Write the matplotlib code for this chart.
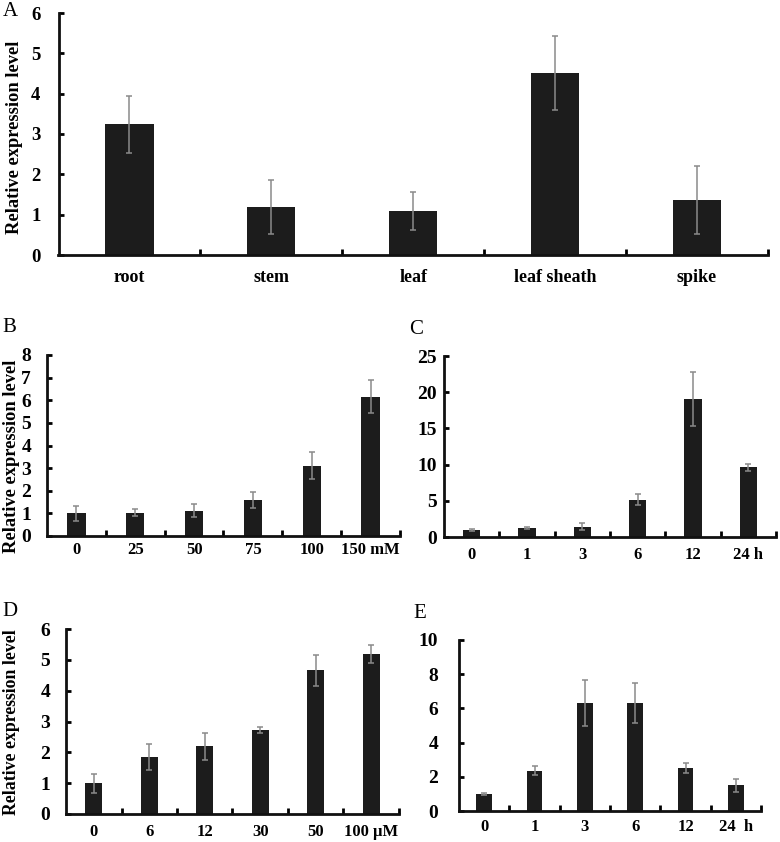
import matplotlib
matplotlib.use("Agg")
import matplotlib.pyplot as plt
import numpy as np

plt.rcParams['font.family'] = ['Liberation Serif', 'DejaVu Serif']

# ---- data ----
tissues = ['root', 'stem', 'leaf', 'leaf sheath', 'spike']
tissue_mean = [3.24, 1.19, 1.09, 4.52, 1.36]
tissue_err = [0.71, 0.66, 0.46, 0.92, 0.85]

salt_labels = ['0', '25', '50', '75', '100', '150 mM']
salt_mean = [1.00, 1.03, 1.12, 1.59, 3.11, 6.16]
salt_err = [0.32, 0.16, 0.29, 0.37, 0.59, 0.72]

timeC_labels = ['0', '1', '3', '6', '12', '24 h']
timeC_mean = [1.00, 1.25, 1.45, 5.15, 19.1, 9.60]
timeC_err = [0.15, 0.10, 0.55, 0.78, 3.70, 0.55]

conc_labels = ['0', '6', '12', '30', '50', '100 μM']
conc_mean = [1.00, 1.85, 2.20, 2.73, 4.66, 5.19]
conc_err = [0.31, 0.42, 0.44, 0.10, 0.50, 0.28]

timeE_labels = ['0', '1', '3', '6', '12', '24  h']
timeE_mean = [1.00, 2.35, 6.32, 6.32, 2.50, 1.52]
timeE_err = [0.08, 0.27, 1.36, 1.17, 0.30, 0.38]

W, H = 780, 842
fig = plt.figure(figsize=(W / 100, H / 100), dpi=100)


def add_axes(l, t, r, b):
    return fig.add_axes([l / W, 1 - b / H, (r - l) / W, (b - t) / H])


def panel(ax, labels, mean, err, width, ymax, ystep, fs_y, fs_x, pad_y, pad_x):
    n = len(labels)
    x = np.arange(n)
    ax.bar(x, mean, width=width, color='#1c1c1c', zorder=2)
    ax.errorbar(x, mean, yerr=err, fmt='none', ecolor='#8a8a8a',
                elinewidth=1.1, capsize=2.2, capthick=1.1, zorder=3)
    ax.set_xlim(-0.5, n - 0.5)
    ax.set_ylim(0, ymax)
    ax.set_yticks(np.arange(0, ymax + ystep / 2, ystep))
    ax.set_xticks(x)
    ax.set_xticklabels(labels, fontsize=fs_x, fontweight='bold')
    ax.set_xticks(np.arange(n) + 0.5, minor=True)
    for lab in ax.get_yticklabels():
        lab.set_fontweight('bold')
        lab.set_fontsize(fs_y)
    ax.tick_params(axis='x', which='major', length=0, pad=pad_x)
    ax.tick_params(axis='x', which='minor', direction='in', length=4, width=2)
    ax.tick_params(axis='y', which='major', direction='in', length=3.5, width=2,
                   pad=pad_y)
    for s in ('top', 'right'):
        ax.spines[s].set_visible(False)
    for s in ('left', 'bottom'):
        ax.spines[s].set_linewidth(2.0)
        ax.spines[s].set_color('#111111')


axA = add_axes(58.5, 13, 768, 255)
panel(axA, tissues, tissue_mean, tissue_err, 0.34, 6, 1, 13.5, 13, 13, 10)

axB = add_axes(47, 355, 400, 536)
panel(axB, salt_labels, salt_mean, salt_err, 0.31, 8, 1, 14, 12, 11.5, 4)

axC = add_axes(444, 356, 776, 537)
panel(axC, timeC_labels, timeC_mean, timeC_err, 0.31, 25, 5, 14, 12, 5, 7)

axD = add_axes(66, 629, 399, 814)
panel(axD, conc_labels, conc_mean, conc_err, 0.31, 6, 1, 14, 12, 11.5, 7.5)

axE = add_axes(459, 640, 761, 811)
panel(axE, timeE_labels, timeE_mean, timeE_err, 0.31, 10, 2, 14, 12, 15, 6)


def ftext(x, y, s, **kw):
    fig.text(x / W, 1 - y / H, s, **kw)


ylab = 'Relative expression level'
ftext(15, 137, ylab, rotation=90, ha='center', va='center', fontsize=13.3, fontweight='bold')
ftext(12, 456, ylab, rotation=90, ha='center', va='center', fontsize=13.3, fontweight='bold')
ftext(12, 722, ylab, rotation=90, ha='center', va='center', fontsize=12.8, fontweight='bold')

for letter, (px, py) in zip('ABCDE', [(10, 12), (9, 327), (416, 330), (10, 611), (420, 613)]):
    ftext(px, py, letter, ha='center', va='center', fontsize=15)

fig.savefig('out.png', dpi=100)
